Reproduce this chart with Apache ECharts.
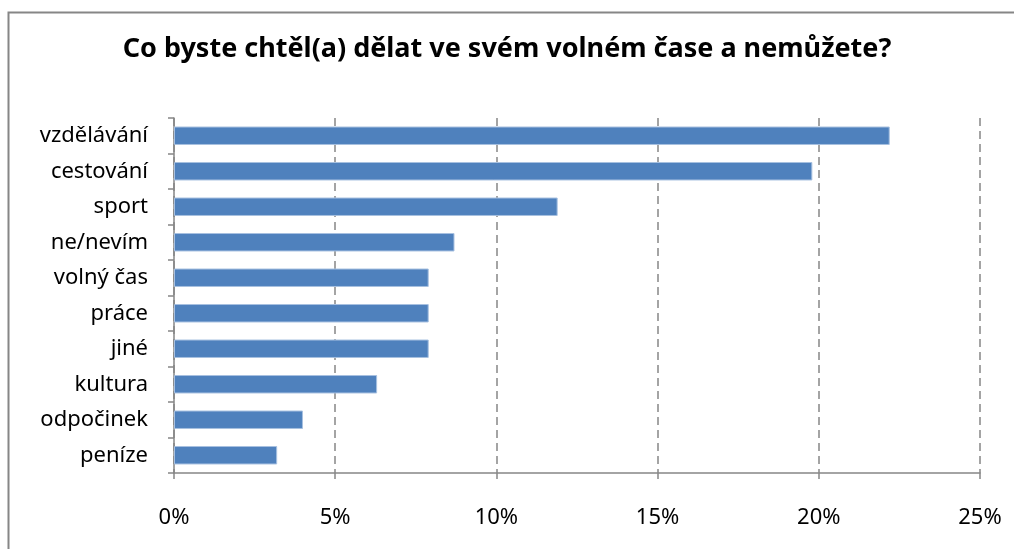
<!DOCTYPE html>
<html>
<head>
<meta charset="utf-8">
<script src="https://cdn.jsdelivr.net/npm/echarts@6/dist/echarts.min.js"></script>
<style>
  html, body { margin: 0; padding: 0; background: #fff; }
  #chart { width: 1014px; height: 549px; }
</style>
</head>
<body>
<div id="chart"></div>
<script>
// kategorie odshora dolů (jak v originále)
var categories = ['vzdělávání', 'cestování', 'sport', 'ne/nevím', 'volný čas', 'práce', 'jiné', 'kultura', 'odpočinek', 'peníze'];
// podíl odpovědí v %
var shares = [22.2, 19.8, 11.9, 8.7, 7.9, 7.9, 7.9, 6.3, 4.0, 3.2];
var xTicks = [0, 5, 10, 15, 20, 25];

var chartDom = document.getElementById('chart');
var myChart = echarts.init(chartDom);

var gray = '#868686';
var font = 'Noto Sans';

var option = {
  animation: false,
  backgroundColor: '#fff',
  title: {
    text: 'Co byste chtěl(a) dělat ve svém volném čase a nemůžete?',
    left: 'center',
    top: 31,
    textStyle: { fontFamily: font, fontWeight: 'bold', fontSize: 27, color: '#000' }
  },
  graphic: [
    // rámeček grafu (vlevo + nahoře)
    { type: 'polyline', shape: { points: [[8.5, 549], [8.5, 12.5], [1014, 12.5]] },
      style: { stroke: gray, lineWidth: 2, fill: null } }
  ],
  grid: { left: 174, right: 34, top: 118, bottom: 76 },
  xAxis: {
    type: 'value',
    min: xTicks[0],
    max: xTicks[xTicks.length - 1],
    interval: 5,
    axisLine: { show: true, lineStyle: { color: gray, width: 1.5 } },
    axisTick: { show: true, length: 6, lineStyle: { color: gray, width: 1.5 } },
    axisLabel: { formatter: '{value}%', margin: 34, fontFamily: font, fontSize: 22, color: '#000' },
    splitLine: { show: true, lineStyle: { color: gray, type: [8, 5], width: 1.5 } }
  },
  yAxis: {
    type: 'category',
    inverse: true,
    data: categories,
    axisLine: { show: true, lineStyle: { color: gray, width: 1.5 } },
    axisTick: { show: true, length: 6, lineStyle: { color: gray, width: 1.5 } },
    axisLabel: { margin: 26, fontFamily: font, fontSize: 22, color: '#000' },
    splitLine: { show: false }
  },
  series: [
    {
      type: 'bar',
      data: shares,
      barCategoryGap: '48%',
      itemStyle: { color: '#4F81BD', borderColor: '#a7c0e0', borderWidth: 1 }
    }
  ]
};

myChart.setOption(option);
</script>
</body>
</html>
